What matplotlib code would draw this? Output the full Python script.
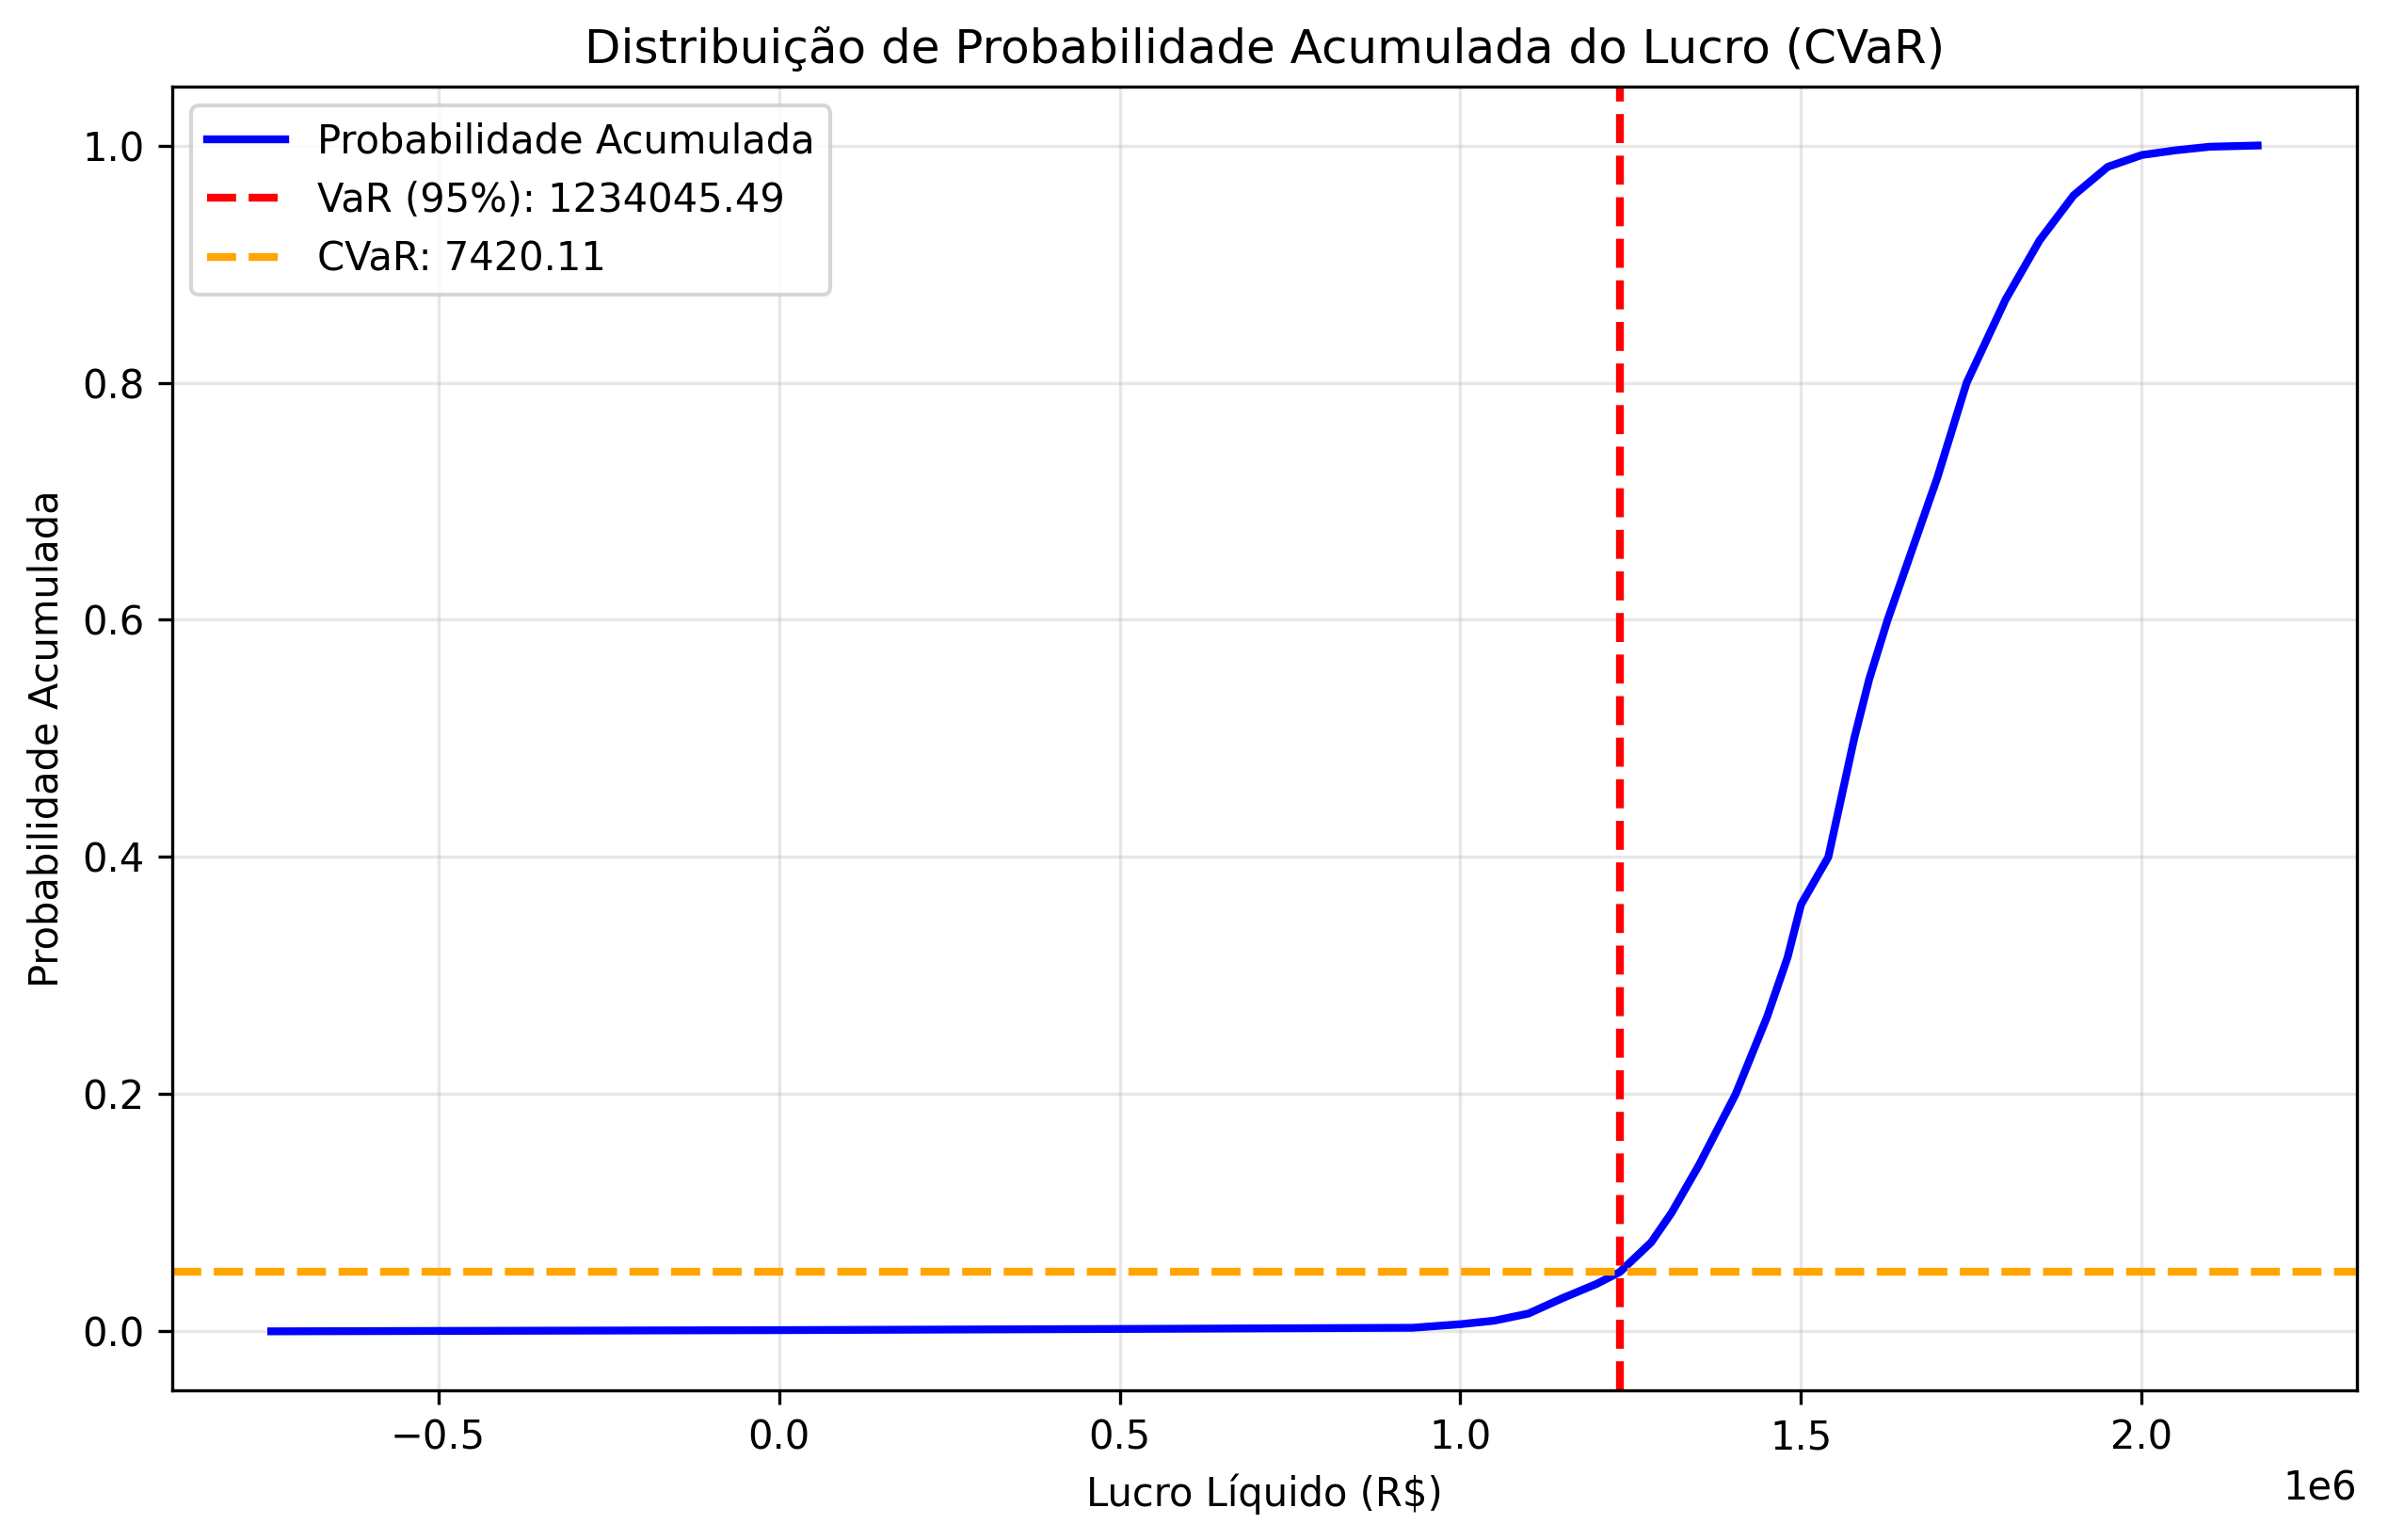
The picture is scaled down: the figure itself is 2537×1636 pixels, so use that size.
import matplotlib
matplotlib.use("Agg")
import matplotlib.pyplot as plt
import numpy as np

lucro = np.array([-0.745, 0.0, 0.5, 0.93, 1.0, 1.05, 1.1, 1.15, 1.2, 1.234, 1.28, 1.31, 1.35, 1.404,
                  1.45, 1.48, 1.5, 1.54, 1.578, 1.6, 1.627, 1.7, 1.743, 1.8, 1.85, 1.9, 1.95,
                  2.0, 2.05, 2.1, 2.17]) * 1e6
prob = [0.0, 0.001, 0.002, 0.003, 0.006, 0.009, 0.015, 0.028, 0.04, 0.05, 0.075, 0.1, 0.14, 0.2,
        0.265, 0.315, 0.36, 0.40, 0.50, 0.55, 0.60, 0.72, 0.80, 0.87, 0.92, 0.958, 0.982,
        0.992, 0.996, 0.999, 1.0]
var_val = 1234045.49
cvar_val = 7420.11

fig = plt.figure(figsize=(2537/300, 1636/300), dpi=300)
ax = fig.add_axes([0.072, 0.097, 0.915, 0.847])
ax.plot(lucro, prob, color='blue', lw=2, label='Probabilidade Acumulada')
ax.axvline(var_val, color='red', ls='--', lw=2, label=f'VaR (95%): {var_val:.2f}')
ax.axhline(0.05, color='orange', ls='--', lw=2, label=f'CVaR: {cvar_val:.2f}')
ax.set_title('Distribuição de Probabilidade Acumulada do Lucro (CVaR)')
ax.set_xlabel('Lucro Líquido (R$)')
ax.set_ylabel('Probabilidade Acumulada')
ax.grid(alpha=0.3)
ax.legend(loc='upper left')
fig.savefig('out.png', dpi=300)
